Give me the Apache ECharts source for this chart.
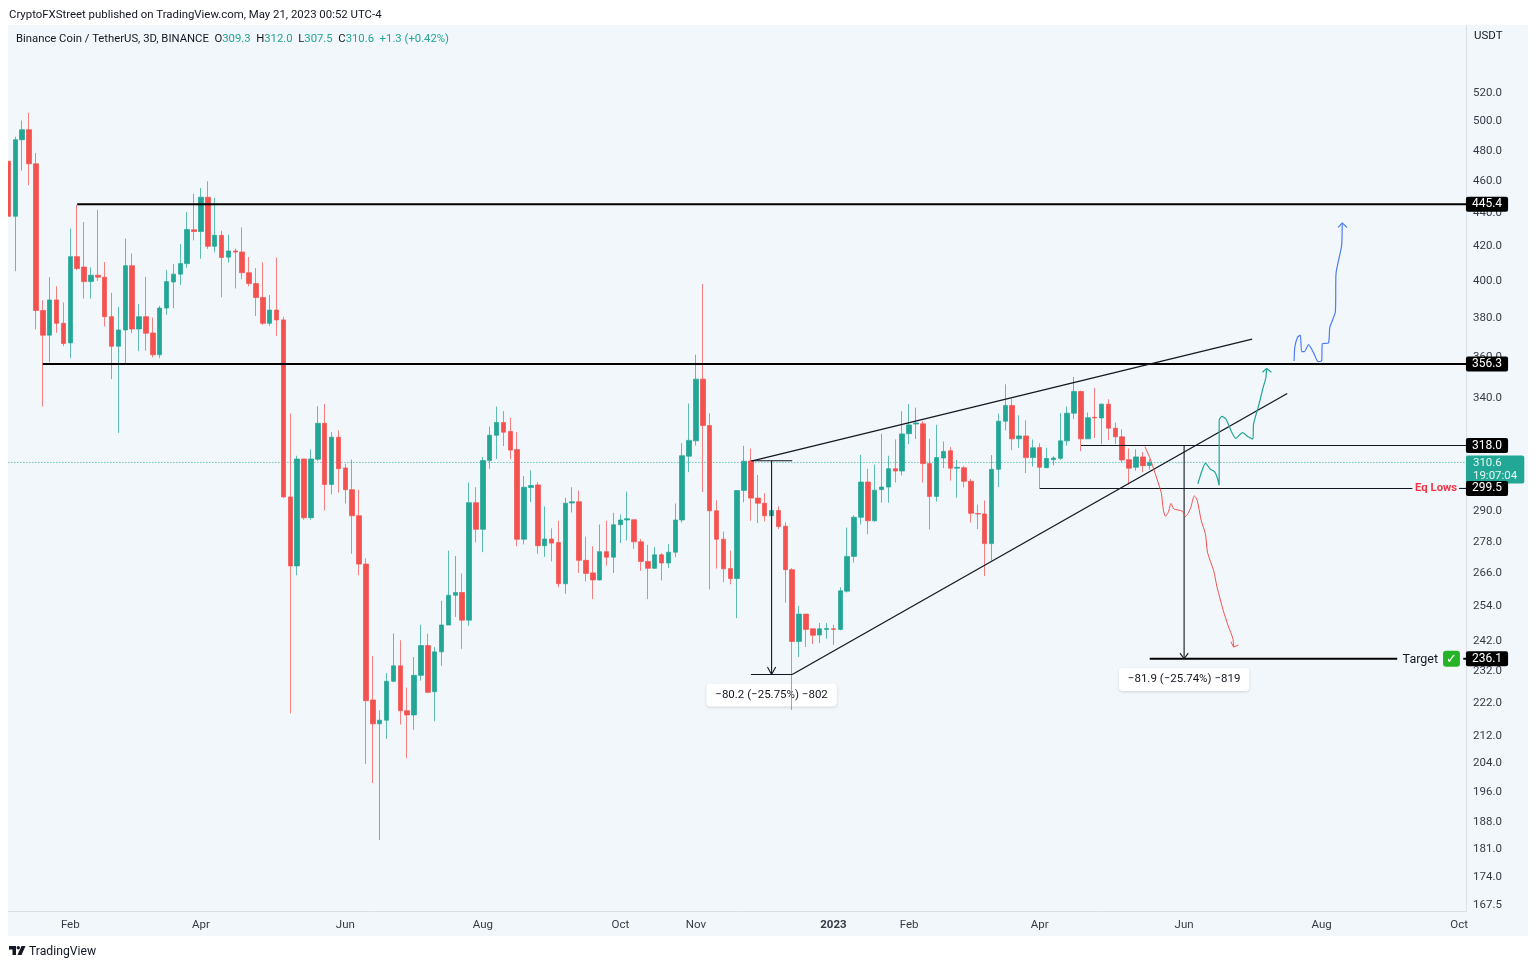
<!DOCTYPE html>
<html>
<head>
<meta charset="utf-8">
<title>BNB/USDT 3D</title>
<script src="https://cdn.jsdelivr.net/npm/echarts@6/dist/echarts.min.js"></script>
<style>
  html, body { margin: 0; padding: 0; background: #fff; }
  #chart { width: 1536px; height: 967px; }
</style>
</head>
<body>
<div id="chart"></div>
<script>
// candles (USDT), 10 per row
const opens = [
  473,438,487.4,494.3,471.3,384,371,389.7,377.2,367,
  414,408,399.8,403.4,402.3,380.7,365.3,373.7,408.8,374.2,
  380.7,372.1,361,385.3,399.6,404,410,429.8,428.8,449.8,
  420,426.5,413.7,417.3,416.7,404.8,398.7,391,377.2,384.2,
  379,296,268.8,312.1,287.5,312,328,301.2,321.7,308.2,
  299,288.3,269.5,222.9,215.6,216.7,228.8,233.8,219.6,218.3,
  230.7,240.5,225.5,238.4,247.5,258,259,249.2,293.6,282.9,
  311.4,322.6,328.4,324.3,316.2,279,299.9,301,276.5,279.1,
  277.7,262.2,293.5,294,270.9,266.2,263.6,274.2,272.1,284.7,
  286.6,286.7,278,270.5,267.9,273,269.9,274,286.6,313.3,
  320.1,348.9,327,290.3,279,267.8,264.1,298.7,311.2,295.5,
  293.4,288.3,290.4,284.1,267.4,241.9,251.3,246.2,244.1,246,
  246.2,246,259.5,272.4,287.7,302.2,286.3,299,300.1,307.9,
  306.9,323.3,327.7,327.8,310.1,296.2,312.5,315.7,308.1,308.3,
  302.5,289.2,289,277.3,307.6,329,336.3,321,322.3,312.7,
  317.1,308.3,311.8,312.4,320.1,332.7,342.9,321,330.8,330.5,
  336.9,325.8,321.9,311.8,308.5,313,309.3
]
const closes = [
  438,487.4,494.3,471.3,384,371,389.7,377.2,366.7,414,
  407.2,399.8,403.4,402.3,380.7,365.3,373.7,408.8,374.2,380.7,
  372,361,385.3,399.8,404,410,430,428.8,449.8,420,
  426.5,413.5,417.3,416.7,404.8,398.7,391,377.2,384.2,379,
  296,268.8,312.1,287.5,312.1,328,301.2,321.7,307.9,299,
  288.3,269.5,222.7,215.6,216.7,228.8,233.8,219.6,218.3,230.7,
  240.5,225.3,238.4,247.5,258,259,249.2,293.6,282.9,311.4,
  322.6,328.4,324,316,279,300,300.7,276.5,279.1,277.5,
  262.2,293.4,294,270.9,266,263.6,274.2,272.1,284.7,286.6,
  287.1,278,270.5,267.9,273,269.9,274,286.6,313.5,320.3,
  348.9,327,290.3,279,267.7,264.1,298.6,311.1,295.5,293.4,
  288.3,290.4,284,267.4,241.9,251.3,246,244,246.2,246.3,
  246,259.6,272.4,287.7,302.2,286.3,298.8,300.1,307.9,306.9,
  323.2,327.3,328.2,310.1,296.2,312.7,315.4,308.1,308.5,302.5,
  289.3,289,277.3,307.6,329,336.3,321,322.3,312.7,317,
  308.5,312.3,312.5,320.1,332.7,342.9,321,330.6,330.5,336.9,
  325.8,321.9,311.7,308.1,313,309.2,310.6
]
const lows = [
  438,405.7,466.9,457.4,374,335.8,357.3,372.2,365.3,359.3,
  406.3,390.5,390.5,400.2,375.5,348.9,323.7,356,372,362.8,
  363,359.6,359.3,381.7,385.2,398,407.6,423.5,412.8,418.5,
  416.5,391.2,410.5,396,401.1,397.2,381,376.3,375.8,370.5,
  295.6,218.8,265.3,286.7,286.7,311.2,290.4,297,297.8,293.3,
  273.4,265.3,203.9,198.5,183.3,211.1,228.5,215.4,205.5,213.8,
  229,225,216.4,233.8,247.5,250.3,239.4,247.2,277.8,274,
  307.9,312.1,317.8,311.9,276.3,277,293.9,273.4,272.2,270.5,
  260.9,258.5,289.6,266.2,263,256.6,263.4,268.9,266.2,277.5,
  278.5,275.3,267,256.6,267.8,263.4,268,272.1,285.6,306.4,
  318,298,260.1,267.8,262.8,262,249.9,293.8,286.3,285.4,
  286,281,283,255.4,219.8,236.7,240,241,241.3,242.8,
  240.7,245.7,259,270.1,284.8,281,285.9,293.6,293.6,302,
  305,318.6,320.9,302,282.8,294.1,308.1,302.8,295.6,300,
  285.6,283,265,270.8,300.1,324.8,316,317,306,308.8,
  299.5,308.1,309.3,311.6,318,330,315.5,321,321.4,318.6,
  320.4,318.6,310.7,301.2,307,306.4,307.5
]
const highs = [
  473,489.5,500.7,506,478.5,389.5,402.3,397.3,388.4,430.6,
  445,434.5,407.8,442,410.9,393.6,386,424.5,415.8,387.4,
  402.5,380.2,386.5,406.4,409.8,421.4,440.6,452,455.6,460,
  449.5,429.2,426.9,418.7,431.2,413.7,407.4,410.7,392.4,413.5,
  380.7,332.5,313.5,312.1,316.3,336,337,324,324.8,310,
  311.9,299,271.7,237,219.7,231.5,244.6,242.3,226.8,236.7,
  247.6,244.5,240,256,274.6,272.5,266,302,300,313,
  326.6,335.8,333.7,330.6,324,304.7,307.2,302.2,292.1,283.3,
  286.3,295.7,300,298.6,280,276.3,284.8,286.3,289.5,288.8,
  298.2,286.7,279.1,276.8,276,273.6,277.2,293.3,319,337.2,
  361,398.4,332.7,294.6,282,274.6,298.7,317.9,316.7,305.2,
  297.5,292,292.1,285.6,268,254.2,251.3,246.2,248.2,248.2,
  247.6,260.9,283.6,288.5,313.9,307.9,309.6,323.2,313.5,320.7,
  333.6,337,335.3,329.1,321,327.3,319.8,317.4,311.7,309,
  303.5,292.8,294.5,313.8,332.5,346.4,339.4,331.7,329.4,320.7,
  319,317,313.3,332.7,335.8,350,343.4,333,344.7,337.3,
  339.2,328.4,325.3,316.7,316.3,315.1,312
]

// axis ticks
const barCount = 213
const xTickIndex = [9,28,49,69,89,100,120,131,150,171,191,211]
const xTickText = ['Feb','Apr','Jun','Aug','Oct','Nov','2023','Feb','Apr','Jun','Aug','Oct']
const yTicks = [520,500,480,460,440,420,400,380,360,340,318,290,278,266,254,242,232,222,212,204,196,188,181,174,167.5]

// last bar
const lastPrice = 310.6
const lastBar = { o: '309.3', h: '312.0', l: '307.5', c: '310.6', chg: '+1.3 (+0.42%)' }

// drawings, [bar number, price]
const resistanceHigh = [[10,445.4],[212,445.4]]
const resistanceMid = [[5,356.3],[212,356.3]]
const wedgeUpper = [[108.2,311.3],[180.9,369]]
const wedgeLower = [[114,231],[186,342]]
const level318 = [[156,318],[212,318]]
const eqLowsA = [[150,299.5],[204.2,299.5]]
const eqLowsB = [[211,299.5],[212,299.5]]
const targetA = [[166,236.1],[202,236.1]]
const targetB = [[211.6,236.1],[212,236.1]]
const measure1Top = [[108,311.3],[114,311.3]]
const measure1Bottom = [[108,231],[114,231]]
const measure1Stem = [[111,311.3],[111,231]]
const measure1Head = [[110.4,233.4],[111,231],[111.6,233.4]]
const measure2Stem = [[171,318],[171,236.1]]
const measure2Head = [[170.4,238],[171,236.1],[171.6,238]]

const redPath = [[165.3,317.5],[166,312.7],[166.8,305.8],[167.5,299.5],[167.7,297.4],[168,290.4],[168.3,288.1],[168.7,289.7],[169.1,293.3],[169.5,291.1],[170.7,290.2],[171.2,288],[171.9,291.1],[172.5,296.4],[172.9,294.6],[173.5,286.3],[174.1,281.1],[174.4,274],[175.3,267],[175.8,260.9],[176.7,252.5],[177.4,247.3],[178.1,242.8],[178.2,240]]
const redHead = [[177.8,241.8],[178.2,240],[178.9,240.7]]
const greenPath = [[173,301.5],[173.6,307],[174.1,310.3],[174.8,307.7],[175.4,306.7],[175.8,304.2],[176.1,300.8],[176.1,329.5],[176.5,331.2],[177.1,329.9],[177.9,324.1],[178.5,321.2],[179.5,323.8],[180.3,321.9],[181,320.9],[181.1,327.7],[181.9,337],[182.5,344.9],[182.9,349.7],[183,354]]
const greenHead = [[182.4,352.3],[183,354.1],[183.7,352.3]]
const bluePath = [[187,357.8],[187.1,364.8],[187.5,369.9],[187.9,371],[188.1,362.6],[188.5,362.6],[189.1,366.1],[189.8,362.2],[190.5,357.5],[191,358],[191.1,366.5],[192,367],[192.2,375.2],[193,383.3],[193.1,404.5],[193.9,420.2],[194,433.8]]
const blueHead = [[193.4,431.2],[194,434],[194.7,431.2]]

const priceTags = [445.4, 356.3, 318.0, 299.5, 236.1]

const upColor = '#22a695'
const downColor = '#f4524f'
const upWick = 'rgba(34,166,149,0.72)'
const downWick = 'rgba(244,82,79,0.72)'
const ink = '#131722'
const panelBg = '#f2f7fb'
const fontName = 'Roboto, sans-serif'

// 3 day bars, the axis goes on past the last candle
const categories = []
for (let i = 0; i < barCount; i++) {
  categories.push(new Date(Date.UTC(2022, 0, 5 + i * 3)).toISOString().slice(0, 10))
}
const candles = opens.map((o, i) => [o, closes[i], lows[i], highs[i]])

function drawn(data, color, width, smooth, type) {
  return {
    type: 'line', xAxisIndex: 1, yAxisIndex: 0, data: data, z: 5,
    showSymbol: false, symbol: 'none', silent: true, smooth: smooth || false,
    lineStyle: { color: color, width: width, type: type || 'solid' }
  }
}

// a text placed at a bar and price
function note(x, price, label) {
  return {
    type: 'scatter', xAxisIndex: 1, yAxisIndex: 0, data: [[x, price]], z: 6,
    symbolSize: 0, silent: true, clip: false,
    itemStyle: { opacity: 1 },
    label: Object.assign({ show: true, fontFamily: fontName }, label)
  }
}

function tag(price) {
  return note(211.99, price, {
    position: 'right', distance: 0,
    formatter: price.toFixed(1), color: '#fff', fontSize: 12,
    backgroundColor: '#000', borderRadius: 2, padding: [2, 6, 1, 6]
  })
}

// sits under the candles, a wick runs across the first box
function measureBox(x, price, text) {
  const box = note(x, price, {
    position: 'inside', formatter: text, color: ink, fontSize: 11.5,
    backgroundColor: '#fff', borderRadius: 4, padding: [6, 9, 5, 9],
    shadowColor: 'rgba(0,0,0,0.14)', shadowBlur: 3, shadowOffsetY: 1
  })
  box.z = 2
  return box
}

const myChart = echarts.init(document.getElementById('chart'), null, { renderer: 'canvas' })

const option = {
  animation: false,
  backgroundColor: '#fff',
  textStyle: { fontFamily: fontName },
  title: [
    {
      left: 9, top: 10, padding: 0,
      text: 'CryptoFXStreet published on TradingView.com, May 21, 2023 00:52 UTC-4',
      textStyle: { fontSize: 11.4, fontWeight: 'normal', color: ink, fontFamily: fontName }
    },
    {
      left: 16, top: 34, padding: 0,
      text: '{k|Binance Coin / TetherUS, 3D, BINANCE  O}{v|' + lastBar.o + '}{k|  H}{v|' + lastBar.h +
        '}{k|  L}{v|' + lastBar.l + '}{k|  C}{v|' + lastBar.c + '}{v|  ' + lastBar.chg + '}',
      textStyle: {
        fontWeight: 'normal',
        rich: {
          k: { fontSize: 11.3, fontWeight: 'normal', color: ink, fontFamily: fontName },
          v: { fontSize: 11.3, fontWeight: 'normal', color: upColor, fontFamily: fontName }
        }
      }
    },
    {
      left: 29, top: 946, padding: 0, text: 'TradingView',
      textStyle: { fontSize: 12.2, fontWeight: 'normal', color: ink, fontFamily: fontName }
    },
    {
      left: 1474, top: 30, padding: 0, text: 'USDT',
      textStyle: { fontSize: 11.5, fontWeight: 'normal', color: ink, fontFamily: fontName }
    }
  ],
  graphic: [
    { type: 'rect', z: -1, shape: { x: 8, y: 25, width: 1520, height: 911 }, style: { fill: panelBg } },
    // the first candle is cut off at the chart edge
    { type: 'rect', z: 100, shape: { x: 0, y: 25, width: 8, height: 886 }, style: { fill: '#fff' } },
    // logo
    { type: 'polygon', shape: { points: [[9,946],[16,946],[16,955],[12.5,955],[12.5,949.5],[9,949.5]] }, style: { fill: ink } },
    { type: 'circle', shape: { cx: 18.3, cy: 947.7, r: 1.7 }, style: { fill: ink } },
    { type: 'polygon', shape: { points: [[21.5,946],[25.5,946],[21.5,955],[17.5,955]] }, style: { fill: ink } }
  ],
  grid: { left: 8.4, right: 70, top: 25.5, height: 886, containLabel: false },
  xAxis: [
    {
      type: 'category',
      data: categories,
      boundaryGap: false,
      axisLine: { show: true, lineStyle: { color: '#d9dfe6', width: 1 } },
      axisTick: { show: false },
      splitLine: { show: false },
      axisLabel: {
        interval: (i) => xTickIndex.includes(i),
        formatter: (v, i) => {
          const text = xTickText[xTickIndex.indexOf(i)]
          return text === '2023' ? '{b|2023}' : text
        },
        rich: { b: { fontWeight: 'bold', fontSize: 11.5, color: '#363a45', fontFamily: fontName } },
        color: '#363a45', fontSize: 11.5, margin: 8, fontFamily: fontName
      }
    },
    { type: 'value', min: 0, max: 212, show: false, splitLine: { show: false } }
  ],
  yAxis: [{
    type: 'log',
    logBase: 10,
    position: 'right',
    min: 165.9,
    max: 571.7,
    axisLine: { show: true, onZero: false, lineStyle: { color: '#d9dfe6', width: 1 } },
    axisTick: { show: false },
    splitLine: { show: false },
    minorTick: { show: false },
    axisLabel: {
      customValues: yTicks,
      formatter: (v) => Number(v).toFixed(1),
      color: '#363a45', fontSize: 11.5, margin: 7, padding: [4, 0, 0, 0], fontFamily: fontName
    }
  }],
  series: [
    Object.assign(drawn([[0, lastPrice], [212, lastPrice]], upColor, 1, false, [1, 2]), { z: 1 }),
    {
      type: 'candlestick',
      data: candles,
      barWidth: 5,
      z: 3,
      silent: true,
      itemStyle: {
        color: upColor, color0: downColor,
        borderColor: upWick, borderColor0: downWick,
        borderColorDoji: upWick,
        borderWidth: 1
      }
    },
    drawn(resistanceHigh, '#000', 2),
    drawn(resistanceMid, '#000', 2),
    drawn(wedgeUpper, ink, 1.3),
    drawn(wedgeLower, ink, 1.3),
    drawn(level318, ink, 1.1),
    drawn(eqLowsA, ink, 1.1),
    drawn(eqLowsB, ink, 1.1),
    drawn(targetA, '#000', 2),
    drawn(targetB, '#000', 2),
    drawn(measure1Top, ink, 1.1),
    drawn(measure1Bottom, ink, 1.1),
    drawn(measure1Stem, ink, 1.1),
    drawn(measure1Head, ink, 1.1),
    drawn(measure2Stem, ink, 1.1),
    drawn(measure2Head, ink, 1.1),
    drawn(redPath, downColor, 1, 0.25),
    drawn(redHead, downColor, 1),
    drawn(greenPath, upColor, 1.2, 0.2),
    drawn(greenHead, upColor, 1.2),
    drawn(bluePath, '#4d7cf5', 1.2, 0.2),
    drawn(blueHead, '#4d7cf5', 1.2),
    measureBox(111, 224.5, '\u221280.2 (\u221225.75%) \u2212802'),
    measureBox(171, 229.4, '\u221281.9 (\u221225.74%) \u2212819'),
    note(204.6, 299.5, {
      position: 'right', distance: 0, formatter: 'Eq Lows',
      color: '#f23645', fontSize: 11.3, fontWeight: 'bold', padding: [2, 0, 0, 0]
    }),
    note(202.2, 236.1, {
      position: 'right', distance: 4,
      formatter: '{t|Target} {c|\u2713}',
      rich: {
        t: { color: ink, fontSize: 12.5, fontFamily: fontName, padding: [2, 2, 0, 0] },
        c: { color: '#fff', backgroundColor: '#27b327', borderRadius: 3, padding: [2, 3, 1, 3], fontSize: 13, fontWeight: 'bold', fontFamily: 'DejaVu Sans' }
      }
    }),
    note(211.99, lastPrice, {
      position: 'right', distance: 0, offset: [0, 7],
      formatter: '310.6\n19:07:04', color: '#e6f7f3', fontSize: 11.5, lineHeight: 13,
      backgroundColor: upColor, borderRadius: 2, padding: [1, 7, 1, 7]
    }),
    ...priceTags.map(tag)
  ]
}
myChart.setOption(option)
</script>
</body>
</html>
